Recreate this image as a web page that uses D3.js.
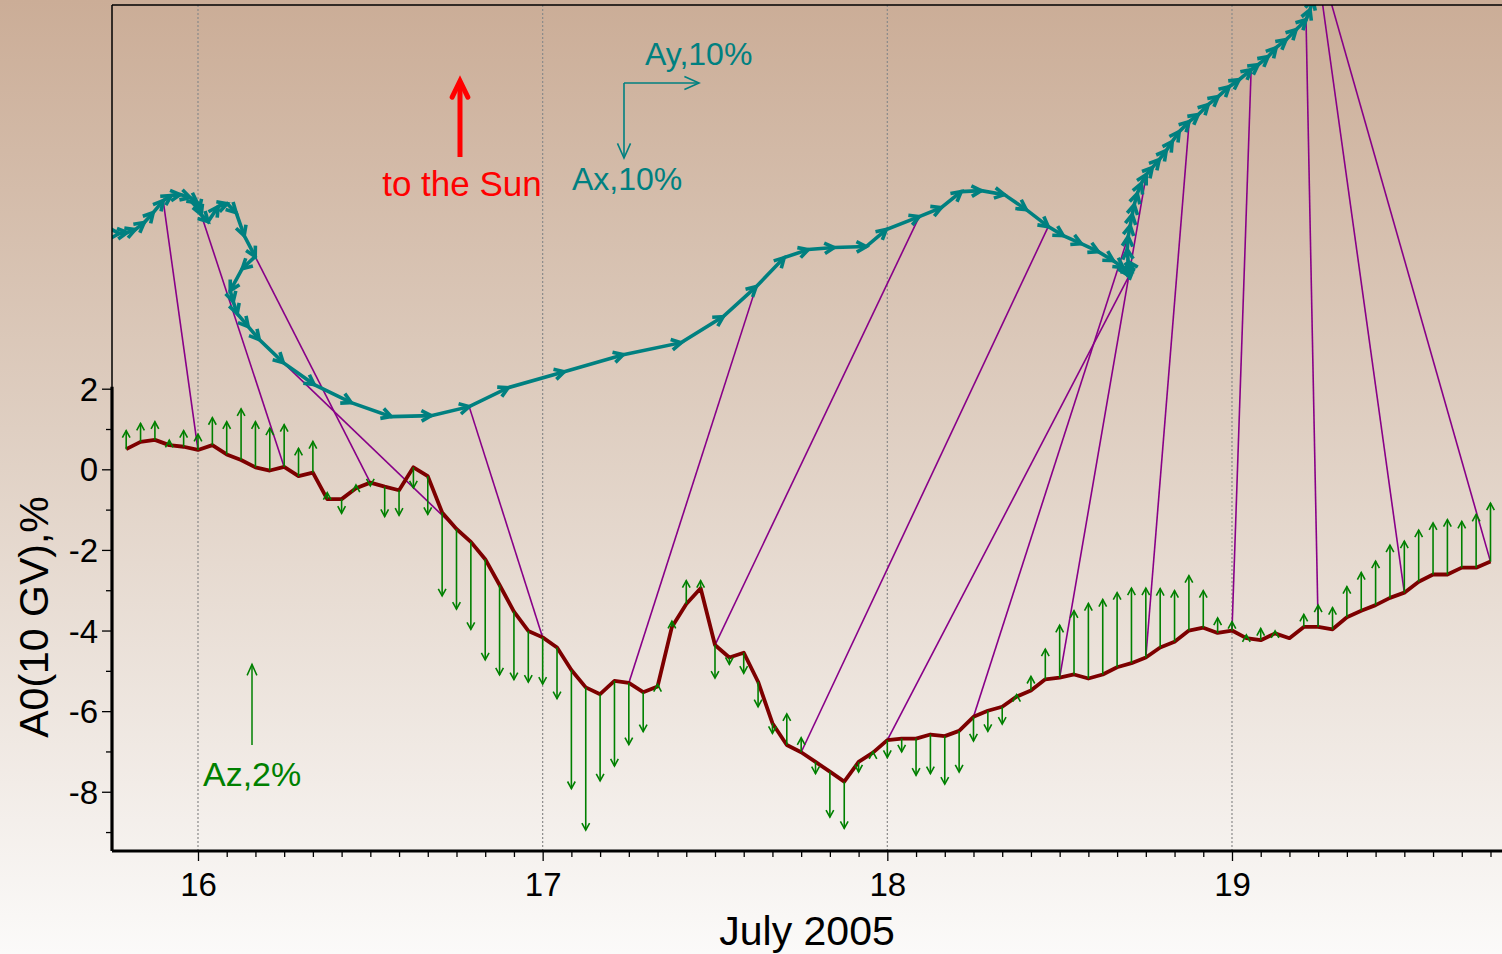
<!DOCTYPE html>
<html>
<head>
<meta charset="utf-8">
<script src="https://cdn.jsdelivr.net/npm/d3@7"></script>
<style>
  html, body { margin: 0; padding: 0; overflow: hidden; background: #fff; }
  text { font-family: "Liberation Sans", Arial, sans-serif; }
</style>
</head>
<body>
<svg id="chart" width="1502" height="954"></svg>
<script>
// Hourly samples, 15 July 19 UT ... 19 July 18 UT (time in fractional days of July 2005)
const firstHour = 15 + 19 / 24;
const hourCount = 96;

// A0(10 GV), %  - isotropic part of cosmic-ray density variation
const a0 = [
  0.50, 0.68, 0.73, 0.60, 0.56, 0.48, 0.60, 0.37, 0.23, 0.05, -0.03, 0.06,
  -0.17, -0.08, -0.74, -0.74, -0.47, -0.33, -0.43, -0.52, 0.05, -0.17, -1.07, -1.48,
  -1.80, -2.23, -2.87, -3.53, -4.01, -4.17, -4.42, -4.98, -5.41, -5.58, -5.25, -5.30,
  -5.53, -5.39, -3.91, -3.34, -2.95, -4.36, -4.67, -4.55, -5.27, -6.30, -6.84, -7.02,
  -7.26, -7.50, -7.75, -7.26, -7.03, -6.72, -6.68, -6.68, -6.58, -6.62, -6.49, -6.14,
  -5.99, -5.89, -5.64, -5.49, -5.21, -5.17, -5.09, -5.19, -5.09, -4.91, -4.81, -4.67,
  -4.42, -4.28, -4.00, -3.93, -4.06, -4.00, -4.19, -4.24, -4.07, -4.19, -3.91, -3.91,
  -3.97, -3.67, -3.51, -3.37, -3.19, -3.06, -2.79, -2.61, -2.61, -2.44, -2.44, -2.29
];

// Az, %  - north-south component of the first harmonic
const az = [
  0.46, 0.46, 0.45, 0.12, 0.40, 0.39, 0.68, 0.81, 1.27, 1.13, 1.05, 1.05,
  0.69, 0.77, 0.16, -0.35, 0.08, -0.08, -0.74, -0.62, -0.51, -0.95, -2.07, -1.99,
  -2.17, -2.50, -2.23, -1.69, -1.27, -1.16, -1.27, -2.94, -3.54, -2.15, -2.11, -1.53,
  -0.98, 0.05, 0.14, 0.58, 0.19, -0.82, -0.17, -0.51, -0.62, -0.25, 0.77, 0.36,
  -0.29, -1.13, -1.16, -0.25, 0.02, -0.43, -0.33, -0.91, -0.97, -1.19, -1.02, -0.60,
  -0.51, -0.43, 0.05, 0.35, 0.75, 1.30, 1.58, 1.86, 1.86, 1.85, 1.86, 1.72,
  1.46, 1.27, 1.36, 0.92, 0.37, 0.22, 0.08, 0.29, 0.06, 0.00, 0.31, 0.54,
  0.54, 0.76, 0.95, 1.09, 1.31, 1.28, 1.28, 1.28, 1.36, 1.15, 1.32, 1.45
];

// Ax, %  - equatorial component along the Sun direction (drawn downward)
const ax = [
  0.00, -0.13, -0.40, -0.93, -1.33, -1.60, -0.67, -0.13, 0.40, 0.67, 0.93, 0.67,
  0.93, -2.00, -0.40, 1.20, 3.07, 2.80, 1.60, 2.93, 1.47, 1.60, 1.73, 1.73,
  3.07, 2.93, 2.40, 1.87, -0.13, -1.20, -2.53, -2.13, -2.27, -1.60, -3.47, -4.00,
  -3.87, -1.07, -0.27, -0.13, -2.27, -1.73, -1.20, -2.13, -0.13, 0.53, 2.00, 2.27,
  1.20, 1.07, 1.07, 1.20, 0.93, 0.53, -0.53, 0.93, -0.67, -1.07, -1.60, -1.73,
  -1.47, -1.47, -1.33, -1.47, -1.33, -1.20, -0.93, -1.07, -1.20, -1.20, -1.33, -1.33,
  -0.93, -1.33, -1.07, -1.33, -0.93, -1.33, -0.67, -1.07, -1.20, -1.07, -1.33, -1.33,
  -1.33, -1.33, -1.33, -1.33, -2.00, -2.00, -1.33, -1.33, -1.33, -1.33, -1.33, -1.33
];

// Ay, %  - equatorial component perpendicular to the Sun direction (drawn rightward)
const ay = [
  0.15, 1.07, 1.07, 1.20, 1.20, 1.33, 1.07, 1.20, 1.33, 0.93, 0.27, 0.27,
  0.93, 1.33, 1.20, 1.20, 1.07, 1.47, -1.73, -1.60, 0.40, 0.53, 1.47, 1.47,
  3.20, 4.13, 4.93, 5.33, 5.33, 5.07, 5.20, 7.47, 7.87, 7.73, 5.60, 4.40,
  3.73, 3.20, 3.47, 4.27, 2.67, 4.40, 2.93, 2.67, 2.67, 3.07, 2.93, 2.93,
  2.00, 2.40, 2.27, 2.00, 1.33, 1.07, -1.07, 0.53, 0.80, -0.67, -0.13, 0.13,
  0.27, 0.27, 0.27, 0.40, 0.53, 0.67, 0.80, 0.93, 0.93, 0.80, 0.93, 1.33,
  1.20, 1.33, 1.33, 1.47, 1.33, 1.60, 0.93, 1.33, 1.07, 1.33, 1.33, 1.33,
  0.53, 0.40, 0.27, 0.13, 0.00, -0.13, -0.40, -0.40, -0.40, -0.40, -0.27, -0.27
];

// Where the vector diagram begins, in chart coordinates (day, A0 %)
const vecOrigin = { day: 15.768, a0: 5.85 };

// Times at which A0 and the vector diagram are tied together
const linkDays = [16, 16.25, 16.5, 16.75, 17, 17.25, 17.5, 17.75, 18, 18.25, 18.5, 18.75, 19, 19.25, 19.5, 19.75];

const dayTicks = [16, 17, 18, 19];
const a0Ticks = [2, 0, -2, -4, -6, -8];
const a0MinorTicks = [1, -1, -3, -5, -7, -9];

// ---------------------------------------------------------------------------
const W = 1502, H = 954;
const plot = { left: 112, right: 1502, top: 5, bottom: 851 };

const svg = d3.select("#chart");

const x = d3.scaleLinear().domain([15.7505, 19.7834]).range([plot.left, plot.right]);
const y = d3.scaleLinear().domain([-9.47, 11.52]).range([plot.bottom, plot.top]);
const vec = d3.scaleLinear().domain([0, 10]).range([0, 75]);   // vector diagram, px per %

const days = d3.range(hourCount).map(i => firstHour + i / 24);

// background gradient
const defs = svg.append("defs");
const grad = defs.append("linearGradient").attr("id", "bg")
  .attr("x1", 0).attr("y1", 0).attr("x2", 0).attr("y2", 1);
grad.append("stop").attr("offset", 0).attr("stop-color", "#cbad97");
grad.append("stop").attr("offset", 0.45).attr("stop-color", "#dfcfc2");
grad.append("stop").attr("offset", 1).attr("stop-color", "#fbfaf9");
svg.append("rect").attr("width", W).attr("height", H).attr("fill", "url(#bg)");

defs.append("clipPath").attr("id", "plotClip").append("rect")
  .attr("x", plot.left).attr("y", plot.top)
  .attr("width", plot.right - plot.left).attr("height", plot.bottom - plot.top);

// day grid lines
svg.append("g").selectAll("line").data(dayTicks).join("line")
  .attr("x1", d => x(d)).attr("x2", d => x(d))
  .attr("y1", plot.top).attr("y2", plot.bottom)
  .attr("stroke", "#8a8a8a").attr("stroke-width", 1.2).attr("stroke-dasharray", "2,2");

// chevron arrowhead path ending at (x2, y2)
function head(x1, y1, x2, y2, len, ang) {
  const a = Math.atan2(y2 - y1, x2 - x1);
  const p1 = [x2 - len * Math.cos(a - ang), y2 - len * Math.sin(a - ang)];
  const p2 = [x2 - len * Math.cos(a + ang), y2 - len * Math.sin(a + ang)];
  return `M${p1[0]},${p1[1]}L${x2},${y2}L${p2[0]},${p2[1]}`;
}

const data = svg.append("g").attr("clip-path", "url(#plotClip)");

// vector diagram vertices (cumulative hourly Ay, Ax vectors)
const verts = [];
let px = x(vecOrigin.day), py = y(vecOrigin.a0);
const start = [px, py];
for (let i = 0; i < hourCount; i++) {
  const nx = px + vec(ay[i]), ny = py + vec(ax[i]);
  verts.push({ x0: px, y0: py, x1: nx, y1: ny, day: days[i] });
  px = nx; py = ny;
}
const idxAt = d => Math.round((d - firstHour) * 24);
const vertAt = d => verts[idxAt(d)];

// links between A0 points and the diagram
data.append("g").selectAll("line").data(linkDays).join("line")
  .attr("x1", d => x(d)).attr("y1", d => y(a0[idxAt(d)]))
  .attr("x2", d => vertAt(d).x1).attr("y2", d => vertAt(d).y1)
  .attr("stroke", "#880088").attr("stroke-width", 1.6);

// vector diagram
const vg = data.append("g").attr("fill", "none").attr("stroke", "#008080")
  .attr("stroke-width", 3.6).attr("stroke-linejoin", "miter");
vg.append("path")
  .attr("d", d3.line()([start, ...verts.map(v => [v.x1, v.y1])]));
vg.selectAll("path.h").data(verts).join("path").attr("class", "h")
  .attr("d", v => head(v.x0, v.y0, v.x1, v.y1, 11, 0.5));

// A0 curve
data.append("path")
  .attr("d", d3.line().x((d, i) => x(days[i])).y(d => y(d))(a0))
  .attr("fill", "none").attr("stroke", "#7d0000").attr("stroke-width", 3.8)
  .attr("stroke-linejoin", "round");

// Az arrows from the A0 curve
const ag = data.append("g").attr("fill", "none").attr("stroke", "#008000").attr("stroke-width", 1.6);
days.forEach((d, i) => {
  if (Math.abs(az[i]) < 0.01) return;
  const xx = x(d), y0 = y(a0[i]), y1 = y(a0[i] + az[i]);
  ag.append("line").attr("x1", xx).attr("x2", xx).attr("y1", y0).attr("y2", y1);
  ag.append("path").attr("d", head(xx, y0, xx, y1, 8, 0.5));
});

// frame and axes
svg.append("line").attr("x1", plot.left).attr("x2", plot.right).attr("y1", plot.top).attr("y2", plot.top)
  .attr("stroke", "#000").attr("stroke-width", 1.5);
svg.append("line").attr("x1", plot.left).attr("x2", plot.left).attr("y1", plot.top).attr("y2", plot.bottom)
  .attr("stroke", "#000").attr("stroke-width", 1.5);
svg.append("line").attr("x1", plot.left).attr("x2", plot.left).attr("y1", y(2) - 2).attr("y2", plot.bottom)
  .attr("stroke", "#000").attr("stroke-width", 3.2);
svg.append("line").attr("x1", plot.left).attr("x2", plot.right).attr("y1", plot.bottom).attr("y2", plot.bottom)
  .attr("stroke", "#000").attr("stroke-width", 3);

const plain = d => String(d);   // hyphen-minus, as in the original labels
const yAxis = svg.append("g").attr("transform", `translate(${plot.left - 1},0)`)
  .call(d3.axisLeft(y).tickValues(a0Ticks).tickSize(9).tickPadding(4).tickFormat(plain));
const yMinor = svg.append("g").attr("transform", `translate(${plot.left - 1},0)`)
  .call(d3.axisLeft(y).tickValues(a0MinorTicks).tickSize(5).tickFormat(""));
const xAxis = svg.append("g").attr("transform", `translate(0,${plot.bottom + 1})`)
  .call(d3.axisBottom(x).tickValues(dayTicks).tickSize(9).tickPadding(12).tickFormat(plain));
const xMinor = svg.append("g").attr("transform", `translate(0,${plot.bottom + 1})`)
  .call(d3.axisBottom(x).tickValues(d3.range(16, 19.8, 2 / 24).filter(d => Math.abs(d - Math.round(d)) > 1e-6))
    .tickSize(5).tickFormat(""));
[yAxis, yMinor, xAxis, xMinor].forEach(g => {
  g.select(".domain").remove();
  g.selectAll(".tick line").attr("stroke", "#000").attr("stroke-width", 1.3);
  g.selectAll(".tick text").attr("fill", "#000").style("font-size", "33px")
    .style("font-family", '"Liberation Sans", Arial, sans-serif');
});
yAxis.selectAll(".tick text").attr("dy", "0.35em");

svg.append("text").attr("x", 807).attr("y", 945).attr("text-anchor", "middle")
  .style("font-size", "41px").attr("fill", "#000").text("July 2005");
svg.append("text").attr("transform", "translate(48,617) rotate(-90)").attr("text-anchor", "middle")
  .style("font-size", "41px").attr("fill", "#000").text("A0(10 GV),%");

// legend: direction to the Sun
svg.append("line").attr("x1", 460).attr("x2", 460).attr("y1", 157).attr("y2", 82)
  .attr("stroke", "#ff0000").attr("stroke-width", 5);
svg.append("path").attr("d", head(460, 157, 460, 81, 18, 0.45))
  .attr("fill", "none").attr("stroke", "#ff0000").attr("stroke-width", 5).attr("stroke-linecap", "round");
svg.append("text").attr("x", 462).attr("y", 196).attr("text-anchor", "middle")
  .style("font-size", "35px").attr("fill", "#ff0000").text("to the Sun");

// legend: vector diagram scale
const corner = [624, 83];
const lg = svg.append("g").attr("fill", "none").attr("stroke", "#008080").attr("stroke-width", 1.6);
lg.append("line").attr("x1", corner[0]).attr("y1", corner[1]).attr("x2", corner[0] + vec(10)).attr("y2", corner[1]);
lg.append("path").attr("d", head(corner[0], corner[1], corner[0] + vec(10), corner[1], 16, 0.42));
lg.append("line").attr("x1", corner[0]).attr("y1", corner[1]).attr("x2", corner[0]).attr("y2", corner[1] + vec(10));
lg.append("path").attr("d", head(corner[0], corner[1], corner[0], corner[1] + vec(10), 16, 0.42));
svg.append("text").attr("x", 645).attr("y", 65).style("font-size", "32px").attr("fill", "#008080").text("Ay,10%");
svg.append("text").attr("x", 572).attr("y", 190).style("font-size", "32px").attr("fill", "#008080").text("Ax,10%");

// legend: Az scale
const azBase = 745;
const azLen = y(0) - y(2);
svg.append("line").attr("x1", 252).attr("x2", 252).attr("y1", azBase).attr("y2", azBase - azLen)
  .attr("stroke", "#008000").attr("stroke-width", 1.5);
svg.append("path").attr("d", head(252, azBase, 252, azBase - azLen, 12, 0.42))
  .attr("fill", "none").attr("stroke", "#008000").attr("stroke-width", 1.5);
svg.append("text").attr("x", 203).attr("y", 786).style("font-size", "34px").attr("fill", "#008000").text("Az,2%");
</script>
</body>
</html>
